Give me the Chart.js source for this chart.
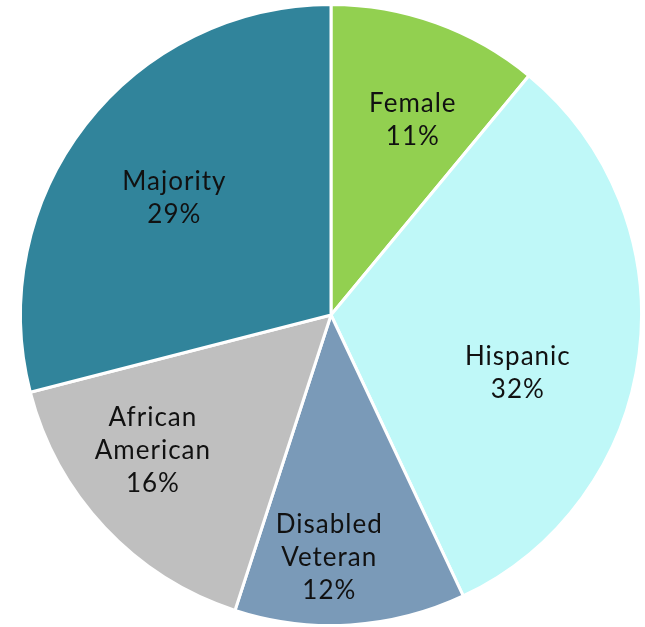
<!DOCTYPE html>
<html>
<head>
<meta charset="utf-8">
<script src="https://cdn.jsdelivr.net/npm/chart.js@4/dist/chart.umd.min.js"></script>
<style>
  html, body { margin: 0; padding: 0; background: #fff; }
  #wrap { position: relative; width: 645px; height: 627px; }
</style>
</head>
<body>
<div id="wrap"><canvas id="pieChart"></canvas></div>
<script>
// slices, clockwise from 12 o'clock
const categories = ["Female", "Hispanic", "Disabled Veteran", "African American", "Majority"];
const labelLines = [["Female"], ["Hispanic"], ["Disabled", "Veteran"], ["African", "American"], ["Majority"]];
const shares = [11, 32, 12, 16, 29];

const sliceColors = ["#92D050", "#BFF8F8", "#7A9AB8", "#BFBFBF", "#31849B"];
// label placement: fraction of radius, and a small turn (deg) off the slice middle
const labelRadius = [0.68, 0.63, 0.78, 0.72, 0.63];
const labelTurn = [3, 10, 4, 6, -1];

const sliceLabels = {
  id: "sliceLabels",
  afterDatasetsDraw(chart) {
    const ctx = chart.ctx;
    const meta = chart.getDatasetMeta(0);
    ctx.save();
    ctx.fillStyle = "#111";
    ctx.font = "400 26px Lato, 'Open Sans', sans-serif";
    ctx.letterSpacing = "1px";
    ctx.textAlign = "center";
    ctx.textBaseline = "middle";
    meta.data.forEach((arc, i) => {
      const mid = (arc.startAngle + arc.endAngle) / 2 + labelTurn[i] * Math.PI / 180;
      const r = arc.outerRadius * labelRadius[i];
      const x = arc.x + Math.cos(mid) * r;
      const y = arc.y + Math.sin(mid) * r;
      const lines = labelLines[i].concat([shares[i] + "%"]);
      const lh = 33;
      const top = y - (lines.length - 1) * lh / 2;
      lines.forEach((t, j) => ctx.fillText(t, x, top + j * lh));
    });
    ctx.restore();
  }
};

new Chart(document.getElementById("pieChart"), {
  type: "pie",
  data: {
    labels: categories,
    datasets: [{
      data: shares,
      backgroundColor: sliceColors,
      borderColor: "#fff",
      borderWidth: 3
    }]
  },
  options: {
    responsive: true,
    maintainAspectRatio: false,
    animation: false,
    layout: { padding: { left: 17, right: 0, top: 3, bottom: -4 } },
    plugins: {
      legend: { display: false },
      tooltip: { enabled: false }
    }
  },
  plugins: [sliceLabels]
});
</script>
</body>
</html>
